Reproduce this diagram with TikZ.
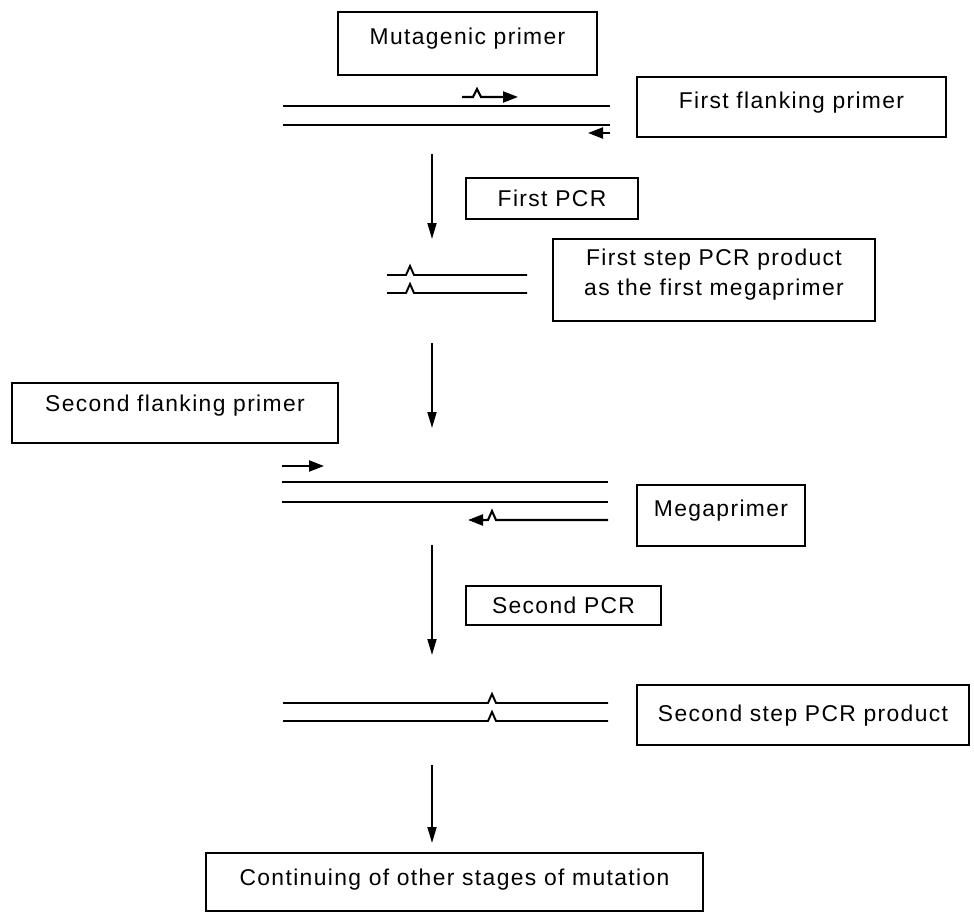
\documentclass[tikz,border=0pt]{standalone}
\usepackage{fontspec}
\setmainfont{Liberation Sans}[LetterSpace=6]
\usetikzlibrary{positioning,arrows.meta}

\tikzset{
  box/.style={draw, line width=1pt, inner sep=0pt, align=center,
    font=\fontsize{13}{17}\selectfont, text height=0.33cm, text depth=0.28cm},
  flatbox/.style={box, text depth=0.02cm},
  strand/.style={line width=1.1pt},
  primer/.style={line width=1.2pt, -{Triangle[length=0.3cm,width=0.22cm]}},
  pcrarrow/.style={line width=1pt, -{Triangle[length=0.32cm,width=0.18cm]}}
}

\begin{document}
\begin{tikzpicture}[x=0.02cm,y=-0.02cm]
  \useasboundingbox (0,0) rectangle (974,912);

  % boxes
  \node[box, minimum width=5.18cm, minimum height=1.26cm] (mut) at (467.5,43.5) {Mutagenic primer};
  \node[box, minimum width=6.18cm, minimum height=1.2cm] (ffp) at (791.5,107) {First flanking primer};
  \node[flatbox, minimum width=3.44cm, minimum height=0.82cm] (pcr1) at (552,198.5) {First PCR};
  \node[box, minimum width=6.44cm, minimum height=1.64cm, text height=, text depth=] (prod1) at (714,280) {First step PCR product\\as the first megaprimer\\[-0.28cm]\mbox{}};
  \node[box, minimum width=6.52cm, minimum height=1.2cm, text depth=0.4cm] (sfp) at (175,413) {Second flanking primer};
  \node[box, minimum width=3.36cm, minimum height=1.22cm] (mega) at (721,515.5) {Megaprimer};
  \node[flatbox, minimum width=3.9cm, minimum height=0.78cm] (pcr2) at (563.5,605.5) {Second PCR};
  \node[box, minimum width=6.64cm, minimum height=1.2cm, text depth=0.08cm] (prod2) at (803,715) {Second step PCR product};
  \node[box, minimum width=9.94cm, minimum height=1.16cm, text depth=0.2cm] (cont) at (454.5,882) {Continuing of other stages of mutation};

  % template and first primers
  \draw[strand] (283,106) -- (610,106);
  \draw[strand] (283,125) -- (610,125);
  \draw[primer] (462,97) -- (473,97) -- ++(4,-8) -- ++(4,8) -- (518,97);
  \draw[primer] (610,133) -- (588,133);

  % first product
  \draw[strand] (387,275) -- (406,275) -- ++(4,-9) -- ++(4,9) -- (527,275);
  \draw[strand] (387,293) -- (406,293) -- ++(4,-9) -- ++(4,9) -- (527,293);

  % second reaction
  \draw[primer] (282,466) -- (324,466);
  \draw[strand] (282,482) -- (608,482);
  \draw[strand] (282,502) -- (608,502);
  \draw[primer] (608,520) -- (496,520) -- ++(-4,-9) -- ++(-4,9) -- (468,520);

  % second product
  \draw[strand] (283,703) -- (488,703) -- ++(4,-9) -- ++(4,9) -- (608,703);
  \draw[strand] (283,721) -- (488,721) -- ++(4,-9) -- ++(4,9) -- (608,721);

  % steps
  \coordinate (s1a) at (432,154);
  \coordinate (s1b) at (432,239);
  \coordinate (s2a) at (432,343);
  \coordinate (s2b) at (432,428);
  \coordinate (s3a) at (432,545);
  \coordinate (s3b) at (432,655);
  \coordinate (s4a) at (432,765);
  \coordinate (s4b) at (432,843);
  \draw[pcrarrow] (s1a) -- (s1b);
  \draw[pcrarrow] (s2a) -- (s2b);
  \draw[pcrarrow] (s3a) -- (s3b);
  \draw[pcrarrow] (s4a) -- (s4b);
\end{tikzpicture}
\end{document}
